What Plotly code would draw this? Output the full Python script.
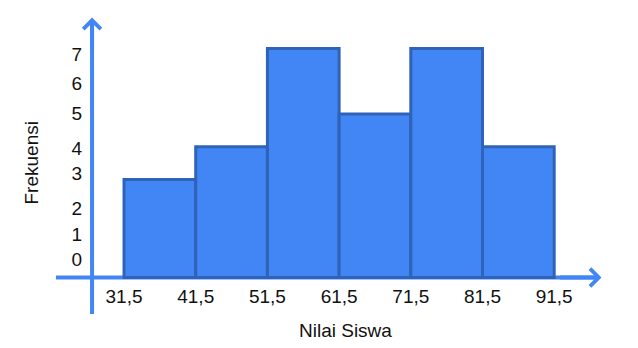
import plotly.graph_objects as go

# ---- data ----
bin_edges = [31.5, 41.5, 51.5, 61.5, 71.5, 81.5, 91.5]
frekuensi = [3, 4, 7, 5, 7, 4]
x_tick_text = ["31,5", "41,5", "51,5", "61,5", "71,5", "81,5", "91,5"]
y_tick_text = ["0", "1", "2", "3", "4", "5", "6", "7"]
y_tick_vals = [0.57, 1.33, 2.13, 3.17, 3.95, 5.03, 5.94, 6.82]
x_title = "Nilai Siswa"
y_title = "Frekuensi"

# ---- styling / layout ----
W, H = 638, 348
X_RANGE = [14.2, 103.19]
Y_RANGE = [-2.156, 8.486]
AXIS_X_AT = 27.04          # where the vertical axis crosses
X_LINE = [22.0, 98.1]      # horizontal axis extent
Y_LINE = [-1.12, 7.95]     # vertical axis extent
FILL = "#4285F4"
EDGE = "#2F63B8"
AXIS_COLOR = "#4285F4"
FONT = "Liberation Sans, Arial, sans-serif"
TXT = "#111111"
FS = 19

centers = [(a + b) / 2 for a, b in zip(bin_edges[:-1], bin_edges[1:])]
widths = [b - a for a, b in zip(bin_edges[:-1], bin_edges[1:])]

fig = go.Figure()
fig.add_trace(go.Bar(
    x=centers, y=frekuensi, width=widths,
    marker=dict(color=FILL, line=dict(color=EDGE, width=3)),
    hoverinfo="skip",
))

xpos = (0 - Y_RANGE[0]) / (Y_RANGE[1] - Y_RANGE[0])
ypos = (AXIS_X_AT - X_RANGE[0]) / (X_RANGE[1] - X_RANGE[0])

fig.update_layout(
    width=W, height=H,
    margin=dict(l=0, r=0, t=0, b=0),
    paper_bgcolor="white", plot_bgcolor="white",
    showlegend=False,
    font=dict(family=FONT, size=FS, color=TXT),
    xaxis=dict(range=X_RANGE, anchor="free", position=xpos,
               tickvals=bin_edges, ticktext=x_tick_text,
               showgrid=False, zeroline=False, showline=False,
               ticks="", ticklabelstandoff=6,
               tickfont=dict(family=FONT, size=FS, color=TXT)),
    yaxis=dict(range=Y_RANGE, anchor="free", position=ypos,
               tickvals=y_tick_vals, ticktext=y_tick_text,
               showgrid=False, zeroline=False, showline=False,
               ticks="", ticklabelstandoff=10,
               tickfont=dict(family=FONT, size=FS, color=TXT)),
)

# axis lines (below bars)
fig.add_shape(type="line", xref="x", yref="y", x0=X_LINE[0], x1=X_LINE[1] - 1.0,
              y0=0, y1=0, line=dict(color=AXIS_COLOR, width=4), layer="below")
fig.add_shape(type="line", xref="x", yref="y", x0=AXIS_X_AT, x1=AXIS_X_AT,
              y0=Y_LINE[0], y1=Y_LINE[1] - 0.2, line=dict(color=AXIS_COLOR, width=4), layer="below")

# arrow heads
fig.add_annotation(x=X_LINE[1], y=0, ax=X_LINE[1] - 6, ay=0, xref="x", yref="y",
                   axref="x", ayref="y", text="", showarrow=True, arrowhead=4,
                   arrowsize=0.85, arrowwidth=4, arrowcolor=AXIS_COLOR)
fig.add_annotation(x=AXIS_X_AT, y=Y_LINE[1], ax=AXIS_X_AT, ay=Y_LINE[1] - 1.0, xref="x", yref="y",
                   axref="x", ayref="y", text="", showarrow=True, arrowhead=4,
                   arrowsize=0.85, arrowwidth=4, arrowcolor=AXIS_COLOR)

# axis titles
fig.add_annotation(x=345 / W, y=1 - 330 / H, xref="paper", yref="paper",
                   text=x_title, showarrow=False, xanchor="center", yanchor="middle",
                   font=dict(family=FONT, size=FS, color=TXT))
fig.add_annotation(x=31 / W, y=1 - 162.5 / H, xref="paper", yref="paper",
                   text=y_title, showarrow=False, textangle=-90,
                   xanchor="center", yanchor="middle",
                   font=dict(family=FONT, size=FS, color=TXT))

fig.write_html("out.html")
